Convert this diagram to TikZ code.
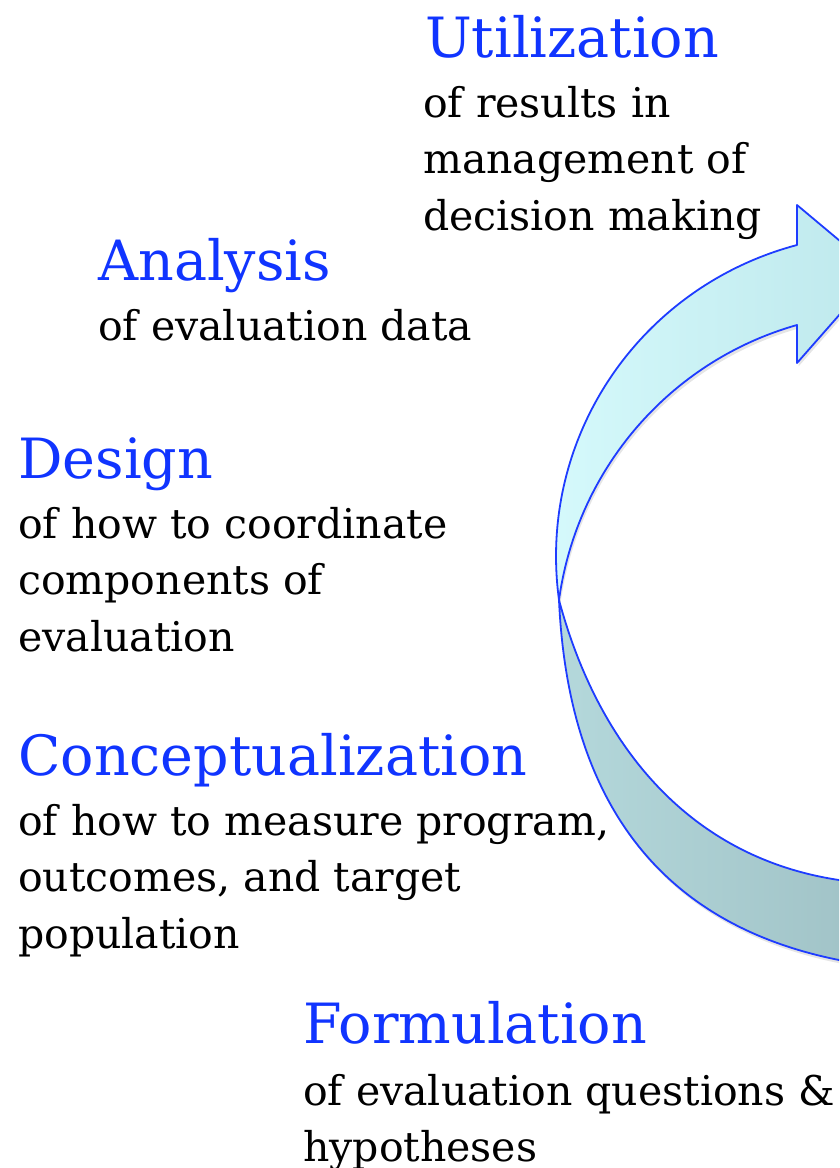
\documentclass[tikz,border=0pt]{standalone}
\usepackage{fontspec}
\setmainfont{DejaVu Serif}
\definecolor{titleblue}{RGB}{16,52,255}
\definecolor{edgeblue}{RGB}{30,60,255}
\definecolor{upL}{RGB}{214,250,252}
\definecolor{upR}{RGB}{190,232,236}
\definecolor{loL}{RGB}{180,216,219}
\definecolor{loR}{RGB}{160,194,198}
\tikzset{
  ttl/.style={anchor=base west, inner sep=0pt, text=titleblue, font=\fontsize{55.5}{64}\selectfont},
  bdy/.style={anchor=base west, inner sep=0pt, text=black, font=\fontsize{41}{56.5}\selectfont},
  band/.style={draw=edgeblue, line width=1.8pt, line join=round},
  shade/.style={fill=black, opacity=0.10, draw=none}
}
\begin{document}
\begin{tikzpicture}[x=1pt,y=-1pt]
\useasboundingbox (0,0) rectangle (839,1168);
\clip (0,0) rectangle (839,1168);
\def\upperpath{(559,600) .. controls (537,438) and (639,287) .. (797,245)
  -- (797,205) -- (877,272) -- (797,363) -- (797,325)
  .. controls (670,361) and (577,469) .. (559,600) -- cycle}
\def\lowerpath{(559,600) .. controls (568,800) and (659,924) .. (839,960)
  -- (870,964) -- (870,878) -- (839,880)
  .. controls (689,857.5) and (598,745.5) .. (559,600) -- cycle}
% soft shadows
\begin{scope}[shift={(1.5,3.5)}]
  \fill[shade] \lowerpath;
  \fill[shade] \upperpath;
\end{scope}
\path[left color=loL, right color=loR] \lowerpath;
\draw[band] \lowerpath;
\path[left color=upL, right color=upR] \upperpath;
\draw[band] \upperpath;
% texts
\node[ttl] (ut) at (425,57) {Utilization};
\node[bdy] (ub) at (423,117) {\vtop{\hbox{of results in}\hbox{management of}\hbox{decision making}}};
\node[ttl] (an) at (98,280) {Analysis};
\node[bdy] (ab) at (98,340) {\vtop{\hbox{of evaluation data}}};
\node[ttl] (de) at (18,478) {Design};
\node[bdy] (db) at (18,538) {\vtop{\hbox{of how to coordinate}\hbox{components of}\hbox{evaluation}}};
\node[ttl] (co) at (18,775) {Conceptualization};
\node[bdy] (cb) at (18,835) {\vtop{\hbox{of how to measure program,}\hbox{outcomes, and target}\hbox{population}}};
\node[ttl] (fo) at (303,1043) {Formulation};
\node[bdy] (fb) at (303,1105) {\vtop{\hbox{of evaluation questions \&}\hbox{hypotheses}}};
\end{tikzpicture}
\end{document}
